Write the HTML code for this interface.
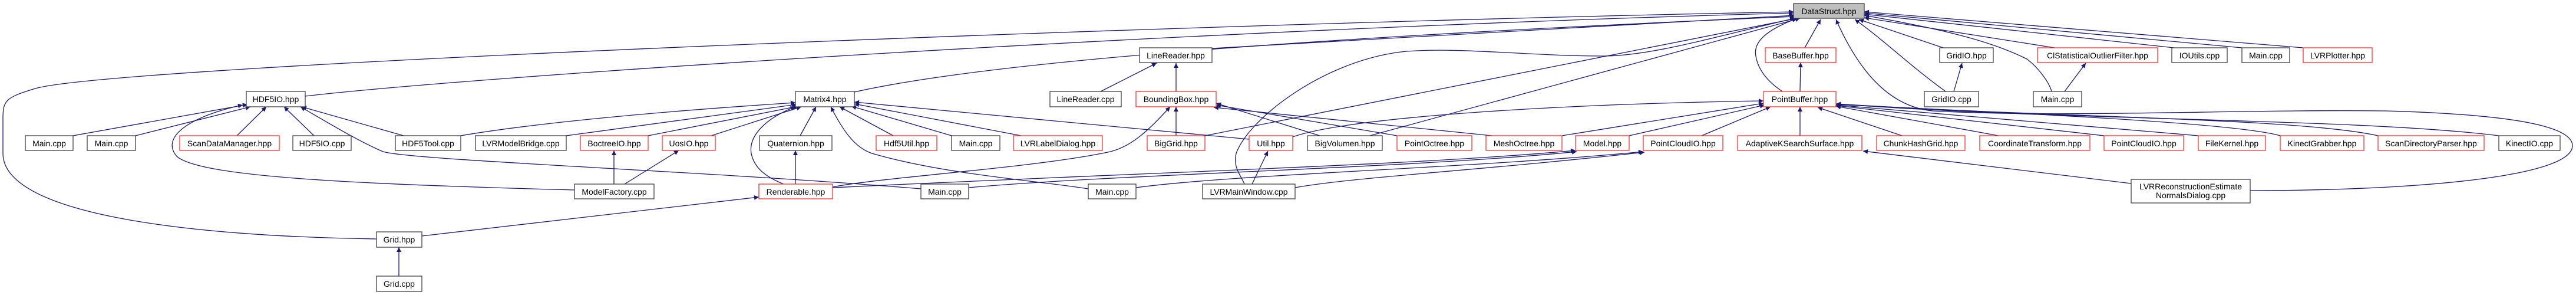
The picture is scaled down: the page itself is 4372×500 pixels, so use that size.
<!DOCTYPE html>
<html><head><meta charset="utf-8"><style>
html,body{margin:0;padding:0;background:#fff;}
svg{display:block;}
text{font-family:"Liberation Sans",sans-serif;font-size:14px;fill:#000;text-anchor:middle;}
.e{fill:none;stroke:#191970;stroke-width:1.3;marker-start:url(#a);}
.n{fill:#fff;stroke:#404040;stroke-width:1.3;}
.r{fill:#fff;stroke:#ff3030;stroke-width:1.3;}
</style></head><body>
<svg width="4372" height="500" viewBox="0 0 4372 500" xmlns="http://www.w3.org/2000/svg">
<defs><marker id="a" viewBox="0 0 10 10" refX="10" refY="5" markerWidth="11" markerHeight="8" markerUnits="userSpaceOnUse" orient="auto-start-reverse"><path d="M0,0 L10,5 L0,10 z" fill="#191970"/></marker></defs>
<!-- edges to DataStruct -->
<path class="e" d="M3044,20 C2000,40 200,110 60,150 C10,165 5,170 5,200 L5,260 C5,360 300,400 639,405"/>
<path class="e" d="M3044,22 C2000,50 800,130 518,163"/>
<path class="e" d="M3046,28 C2300,60 1700,100 1450,156"/>
<path class="e" d="M3046,26 L2057,82"/>
<path class="e" d="M3046,31 C2900,65 2800,95 2720,95 C2600,95 2480,80 2387,87 C2250,100 2120,200 2098,260 C2092,285 2108,300 2112,312"/>
<path class="e" d="M3050,31 L2045,230"/>
<path class="e" d="M3055,31 L2325,230"/>
<path class="e" d="M3050,31 C3000,50 2975,70 2980,95 C2985,125 3010,145 3025,155"/>
<path class="e" d="M3090,33 L3063,81"/>
<path class="e" d="M3056,106 L3055,155"/>
<path class="e" d="M3116,33 C3150,110 3200,180 3280,188 C3500,200 3800,185 4050,188 C4300,195 4366,220 4366,247 C4366,300 4100,323 3819,323"/>
<path class="e" d="M3148,33 C3200,70 3240,110 3302,155"/>
<path class="e" d="M3155,33 L3298,81"/>
<path class="e" d="M3330,107 L3316,155"/>
<path class="e" d="M3164,30 L3487,81"/>
<path class="e" d="M3164,26 C3300,50 3380,70 3440,100 C3460,115 3478,140 3482,155"/>
<path class="e" d="M3540,107 L3504,155"/>
<path class="e" d="M3164,24 L3690,81"/>
<path class="e" d="M3164,22 L3805,81"/>
<path class="e" d="M3164,20 L3909,81"/>
<!-- PointBuffer children -->
<path class="e" d="M2993,171 C2700,175 2300,195 2194,232"/>
<path class="e" d="M2993,175 L2651,230"/>
<path class="e" d="M2995,178 L2765,230"/>
<path class="e" d="M3005,181 L2888,230"/>
<path class="e" d="M3055,181 L3055,230"/>
<path class="e" d="M3085,182 L3228,230"/>
<path class="e" d="M3116,180 L3392,230"/>
<path class="e" d="M3116,179 L3571,230"/>
<path class="e" d="M3116,178 L3731,230"/>
<path class="e" d="M3116,177 C3500,195 3800,210 3870,230"/>
<path class="e" d="M3116,176 C3500,200 3900,200 4036,230"/>
<path class="e" d="M3116,176 C3500,205 4000,200 4241,230"/>
<!-- BoundingBox -->
<path class="e" d="M1996,181 L1996,230"/>
<path class="e" d="M2064,175 L2240,230"/>
<path class="e" d="M2064,178 L2371,230"/>
<path class="e" d="M2060,182 L2532,230"/>
<path class="e" d="M1986,181 C1950,220 1920,250 1880,258 C1750,285 1500,300 1413,317"/>
<path class="e" d="M1996,107 L1996,155"/>
<path class="e" d="M1963,107 L1868,155"/>
<!-- Matrix4 -->
<path class="e" d="M1350,174 C1100,190 900,210 782,230"/>
<path class="e" d="M1352,177 L961,230"/>
<path class="e" d="M1355,180 L1100,230"/>
<path class="e" d="M1360,181 L1207,230"/>
<path class="e" d="M1385,181 L1358,230"/>
<path class="e" d="M1350,181 C1300,200 1270,230 1275,260 C1280,285 1300,300 1330,312"/>
<path class="e" d="M1425,181 L1516,230"/>
<path class="e" d="M1445,180 L1615,230"/>
<path class="e" d="M1450,176 L1733,230"/>
<path class="e" d="M1450,173 L2120,236"/>
<path class="e" d="M1410,181 C1430,220 1450,250 1480,260 C1600,295 1750,305 1847,320"/>
<!-- HDF5IO -->
<path class="e" d="M420,177 L124,230"/>
<path class="e" d="M425,181 L230,230"/>
<path class="e" d="M452,181 L402,230"/>
<path class="e" d="M482,181 L533,230"/>
<path class="e" d="M512,181 L685,230"/>
<path class="e" d="M412,178 C330,195 270,230 300,265 C340,300 600,312 975,322"/>
<path class="e" d="M510,181 C560,210 610,240 650,257 C700,272 1200,290 1563,320"/>
<!-- others -->
<path class="e" d="M1288,334 L716,400"/>
<path class="e" d="M677,419 L677,468"/>
<path class="e" d="M1042,255 L1042,312"/>
<path class="e" d="M1152,255 L1060,312"/>
<path class="e" d="M1350,255 L1350,312"/>
<path class="e" d="M2152,256 L2125,312"/>
<path class="e" d="M2674,255 C2400,280 2000,290 1413,318"/>
<path class="e" d="M2676,257 C2400,285 1900,295 1644,318"/>
<path class="e" d="M2789,257 C2500,285 2100,295 1928,318"/>
<path class="e" d="M2791,258 C2500,290 2300,300 2198,318"/>
<path class="e" d="M3162,256 L3617,311"/>
<!-- nodes -->
<rect x="3044" y="6" width="120" height="25" fill="#bfbfbf" stroke="#404040" stroke-width="1.3"/><text x="3104" y="24">DataStruct.hpp</text>
<rect class="n" x="418" y="155" width="100" height="26"/><text x="468" y="173">HDF5IO.hpp</text>
<rect class="n" x="43" y="230" width="81" height="25"/><text x="83.5" y="248">Main.cpp</text>
<rect class="n" x="148" y="230" width="82" height="25"/><text x="189" y="248">Main.cpp</text>
<rect class="r" x="305" y="230" width="169" height="25"/><text x="389.5" y="248">ScanDataManager.hpp</text>
<rect class="n" x="497" y="230" width="99" height="25"/><text x="546.5" y="248">HDF5IO.cpp</text>
<rect class="n" x="671" y="230" width="111" height="25"/><text x="726.5" y="248">HDF5Tool.cpp</text>
<rect class="n" x="639" y="393" width="77" height="26"/><text x="677.5" y="411">Grid.hpp</text>
<rect class="n" x="639" y="468" width="77" height="26"/><text x="677.5" y="486">Grid.cpp</text>
<rect class="n" x="807" y="230" width="154" height="25"/><text x="884" y="248">LVRModelBridge.cpp</text>
<rect class="r" x="985" y="230" width="115" height="25"/><text x="1042.5" y="248">BoctreeIO.hpp</text>
<rect class="r" x="1124" y="230" width="90" height="25"/><text x="1169" y="248">UosIO.hpp</text>
<rect class="n" x="1289" y="230" width="123" height="25"/><text x="1350.5" y="248">Quaternion.hpp</text>
<rect class="n" x="1350" y="155" width="100" height="26"/><text x="1400" y="173">Matrix4.hpp</text>
<rect class="n" x="975" y="312" width="135" height="25"/><text x="1042.5" y="330">ModelFactory.cpp</text>
<rect class="r" x="1288" y="312" width="125" height="25"/><text x="1350.5" y="330">Renderable.hpp</text>
<rect class="n" x="1934" y="81" width="123" height="25"/><text x="1995.5" y="99">LineReader.hpp</text>
<rect class="n" x="1782" y="155" width="121" height="26"/><text x="1842.5" y="173">LineReader.cpp</text>
<rect class="r" x="1928" y="155" width="136" height="26"/><text x="1996" y="173">BoundingBox.hpp</text>
<rect class="r" x="1487" y="230" width="103" height="25"/><text x="1538.5" y="248">Hdf5Util.hpp</text>
<rect class="n" x="1615" y="230" width="82" height="25"/><text x="1656" y="248">Main.cpp</text>
<rect class="r" x="1720" y="230" width="151" height="25"/><text x="1795.5" y="248">LVRLabelDialog.hpp</text>
<rect class="r" x="1947" y="230" width="98" height="25"/><text x="1996" y="248">BigGrid.hpp</text>
<rect class="r" x="2120" y="230" width="74" height="25"/><text x="2157" y="248">Util.hpp</text>
<rect class="n" x="1563" y="312" width="81" height="25"/><text x="1603.5" y="330">Main.cpp</text>
<rect class="n" x="1847" y="312" width="81" height="25"/><text x="1887.5" y="330">Main.cpp</text>
<rect class="n" x="2041" y="312" width="157" height="25"/><text x="2119.5" y="330">LVRMainWindow.cpp</text>
<rect class="n" x="2219" y="230" width="127" height="25"/><text x="2282.5" y="248">BigVolumen.hpp</text>
<rect class="r" x="2371" y="230" width="127" height="25"/><text x="2434.5" y="248">PointOctree.hpp</text>
<rect class="r" x="2522" y="230" width="129" height="25"/><text x="2586.5" y="248">MeshOctree.hpp</text>
<rect class="r" x="2674" y="230" width="91" height="25"/><text x="2719.5" y="248">Model.hpp</text>
<rect class="r" x="2789" y="230" width="135" height="25"/><text x="2856.5" y="248">PointCloudIO.hpp</text>
<rect class="r" x="2996" y="81" width="120" height="25"/><text x="3056" y="99">BaseBuffer.hpp</text>
<rect class="r" x="2993" y="155" width="123" height="26"/><text x="3054.5" y="173">PointBuffer.hpp</text>
<rect class="n" x="3292" y="81" width="91" height="25"/><text x="3337.5" y="99">GridIO.hpp</text>
<rect class="n" x="3266" y="155" width="92" height="26"/><text x="3312" y="173">GridIO.cpp</text>
<rect class="r" x="3458" y="81" width="204" height="25"/><text x="3560" y="99">ClStatisticalOutlierFilter.hpp</text>
<rect class="n" x="3451" y="155" width="82" height="26"/><text x="3492" y="173">Main.cpp</text>
<rect class="r" x="2949" y="230" width="211" height="25"/><text x="3054.5" y="248">AdaptiveKSearchSurface.hpp</text>
<rect class="r" x="3185" y="230" width="150" height="25"/><text x="3260" y="248">ChunkHashGrid.hpp</text>
<rect class="r" x="3360" y="230" width="187" height="25"/><text x="3453.5" y="248">CoordinateTransform.hpp</text>
<rect class="n" x="3686" y="81" width="94" height="25"/><text x="3733" y="99">IOUtils.cpp</text>
<rect class="n" x="3805" y="81" width="81" height="25"/><text x="3845.5" y="99">Main.cpp</text>
<rect class="r" x="3909" y="81" width="117" height="25"/><text x="3967.5" y="99">LVRPlotter.hpp</text>
<rect class="r" x="3571" y="230" width="135" height="25"/><text x="3638.5" y="248">PointCloudIO.hpp</text>
<rect class="r" x="3731" y="230" width="114" height="25"/><text x="3788" y="248">FileKernel.hpp</text>
<rect class="r" x="3870" y="230" width="142" height="25"/><text x="3941" y="248">KinectGrabber.hpp</text>
<rect class="r" x="4036" y="230" width="180" height="25"/><text x="4126" y="248">ScanDirectoryParser.hpp</text>
<rect class="n" x="4241" y="230" width="104" height="25"/><text x="4293" y="248">KinectIO.cpp</text>
<rect class="n" x="3617" y="304" width="202" height="40"/><text x="3718" y="321">LVRReconstructionEstimate</text><text x="3718" y="336">NormalsDialog.cpp</text>
</svg>
</body></html>
